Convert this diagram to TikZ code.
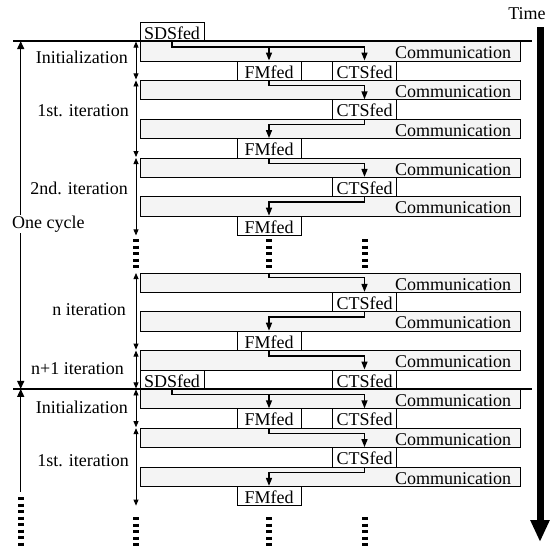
\documentclass[tikz,border=0pt]{standalone}
\usepackage{fontspec}
\setmainfont{Liberation Serif}
\usetikzlibrary{arrows.meta}
\definecolor{commgray}{RGB}{244,244,244}

\tikzset{
  comm/.style={draw, line width=0.8pt, fill=commgray, inner ysep=0pt, inner xsep=9pt,
    text width=362pt, align=right, text height=17.2pt, text depth=2.2pt},
  fed/.style={draw, line width=0.8pt, fill=white, inner sep=0pt, minimum width=64pt,
    text height=17.2pt, text depth=2.2pt},
  conn/.style={line width=1.5pt, -{Triangle[width=6pt,length=8pt]}},
  phase/.style={line width=0.8pt, {Triangle[width=5pt,length=6pt]}-{Triangle[width=5pt,length=6pt]},
    shorten <=0.5pt, shorten >=0.5pt},
  cycarrow/.style={line width=1.4pt},
  rule/.style={line width=1.3pt},
  etc/.style={line width=6pt, dash pattern=on 3pt off 3.5pt},
  lbl/.style={anchor=base east, inner sep=0pt},
}

\begin{document}
\begin{tikzpicture}[x=1pt, y=-1pt, font=\fontsize{18}{21}\selectfont]
  \useasboundingbox (0,0) rectangle (556,546);
  \coordinate (ph) at (136,0);
  \coordinate (cyc) at (20.7,0);
  \coordinate (ruleL) at (13,0);
  \coordinate (ruleR) at (532,0);

  % communication rows
  \foreach \n/\y in {1/51.2, 2/90.0, 3/128.8, 4/167.6, 5/206.4,
                     6/282.6, 7/321.4, 8/360.2,
                     9/399.0, 10/437.8, 11/476.6}
    \node[comm] (com\n) at (330,\y) {Communication};

  % federates
  \node[fed] (sds1) at (172,31.8) {SDSfed};
  \node[fed] (fm1) at (269,70.6) {FMfed};
  \node[fed] (cts1) at (364.5,70.6) {CTSfed};
  \node[fed] (cts2) at (364.5,109.4) {CTSfed};
  \node[fed] (fm2) at (269,148.2) {FMfed};
  \node[fed] (cts3) at (364.5,187.0) {CTSfed};
  \node[fed] (fm3) at (269,225.8) {FMfed};
  \node[fed] (cts4) at (364.5,302.0) {CTSfed};
  \node[fed] (fm4) at (269,340.8) {FMfed};
  \node[fed] (sds2) at (172,379.6) {SDSfed};
  \node[fed] (cts5) at (364.5,379.6) {CTSfed};
  \node[fed] (fm5) at (269,418.4) {FMfed};
  \node[fed] (cts6) at (364.5,418.4) {CTSfed};
  \node[fed] (cts7) at (364.5,457.2) {CTSfed};
  \node[fed] (fm6) at (269,496.0) {FMfed};

  % time line rules
  \draw[rule] (ruleL |- com1.north) -- (ruleR |- com1.north);
  \draw[rule] (ruleL |- com9.north) -- (ruleR |- com9.north);

  % data exchange
  \draw[conn] (sds1.south) -- ++(0,5) -| (fm1.north);
  \draw[conn] (sds1.south) -- ++(0,5) -| (cts1.north);
  \draw[conn] (fm1.south) -- ++(0,5) -| (cts2.north);
  \draw[conn] (cts2.south) -- ++(0,5) -| (fm2.north);
  \draw[conn] (fm2.south) -- ++(0,5) -| (cts3.north);
  \draw[conn] (cts3.south) -- ++(0,5) -| (fm3.north);
  \draw[conn] (com6.north -| fm3.south) -- ++(0,5) -| (cts4.north);
  \draw[conn] (cts4.south) -- ++(0,5) -| (fm4.north);
  \draw[conn] (fm4.south) -- ++(0,5) -| (cts5.north);
  \draw[conn] (sds2.south) -- ++(0,5) -| (fm5.north);
  \draw[conn] (sds2.south) -- ++(0,5) -| (cts6.north);
  \draw[conn] (fm5.south) -- ++(0,5) -| (cts7.north);
  \draw[conn] (cts7.south) -- ++(0,5) -| (fm6.north);

  % phases
  \draw[phase] (ph |- com1.north) -- (ph |- com2.north);
  \draw[phase] (ph |- com2.north) -- (ph |- com4.north);
  \draw[phase] (ph |- com4.north) -- (ph |- fm3.south);
  \draw[phase] (ph |- com6.north) -- (ph |- com8.north);
  \draw[phase] (ph |- com8.north) -- (ph |- com9.north);
  \draw[phase] (ph |- com9.north) -- (ph |- com10.north);
  \draw[phase] (ph |- com10.north) -- (ph |- fm6.south);
  \node[lbl] (init1) at (128,63) {Initialization};
  \node[lbl] (it1) at (129,116) {1st. iteration};
  \node[lbl] (it2) at (128,194) {2nd. iteration};
  \node[lbl] (itn) at (126,315) {n iteration};
  \node[lbl] (itn1) at (124,374) {n+1 iteration};
  \node[lbl] (init2) at (128,413) {Initialization};
  \node[lbl] (it1b) at (129,466) {1st. iteration};

  % one cycle
  \draw[cycarrow, {Triangle[width=7pt,length=8pt]}-{Triangle[width=7pt,length=8pt]}]
    (cyc |- com1.north) -- (cyc |- com9.north);
  \draw[cycarrow, {Triangle[width=7pt,length=8pt]}-] (cyc |- com9.north) -- (20.7,491.7);
  \node[anchor=base west, fill=white, inner xsep=0pt, inner ysep=1pt] (cycle) at (12,228) {One cycle};

  % continuation marks
  \draw[etc] (136,239) -- (136,268);
  \draw[etc] (269,239) -- (269,268);
  \draw[etc] (364.5,239) -- (364.5,268);
  \draw[etc] (20.7,497) -- (20.7,546);
  \draw[etc] (136,517) -- (136,546);
  \draw[etc] (269,517) -- (269,546);
  \draw[etc] (364.5,517) -- (364.5,546);

  % time axis
  \node[anchor=base] (time) at (527,19) {Time};
  \draw[line width=7pt, -{Triangle[width=18pt,length=22pt]}] (540,27) -- (540,542);
\end{tikzpicture}
\end{document}
